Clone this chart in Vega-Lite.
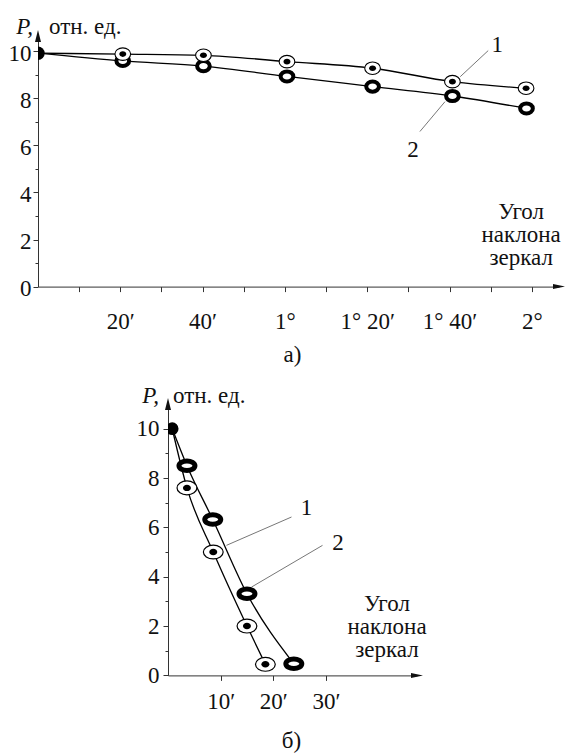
{
  "$schema": "https://vega.github.io/schema/vega-lite/v6.json",
  "padding": {"left": 0, "top": 16, "right": 0, "bottom": 0},
  "spacing": 17,
  "config": {
    "font": "Liberation Serif",
    "view": {"stroke": null},
    "axis": {"grid": false, "domainColor": "#333", "tickColor": "#333", "labelColor": "#111", "labelFont": "Liberation Serif", "labelFontSize": 23, "tickSize": 5, "titleFont": "Liberation Serif", "titleFontSize": 23, "titleFontWeight": "normal", "titleColor": "#111", "labelFlush": false, "labelOverlap": false},
    "text": {"font": "Liberation Serif", "fontSize": 23, "color": "#111"}
  },
  "datasets": {
    "a": [
      {"curve": "1", "x": 0, "y": 9.92}, {"curve": "1", "x": 20.6, "y": 9.88}, {"curve": "1", "x": 40.2, "y": 9.83}, {"curve": "1", "x": 60.5, "y": 9.56}, {"curve": "1", "x": 81.3, "y": 9.28}, {"curve": "1", "x": 100.7, "y": 8.71}, {"curve": "1", "x": 118.6, "y": 8.43},
      {"curve": "2", "x": 0, "y": 9.92}, {"curve": "2", "x": 20.6, "y": 9.59}, {"curve": "2", "x": 40.2, "y": 9.37}, {"curve": "2", "x": 60.5, "y": 8.93}, {"curve": "2", "x": 81.3, "y": 8.5}, {"curve": "2", "x": 100.7, "y": 8.1}, {"curve": "2", "x": 118.7, "y": 7.57}
    ],
    "b": [
      {"curve": "1", "x": 0.8, "y": 10}, {"curve": "1", "x": 3.6, "y": 7.6}, {"curve": "1", "x": 8.6, "y": 5.0}, {"curve": "1", "x": 15.0, "y": 2.0}, {"curve": "1", "x": 18.5, "y": 0.45},
      {"curve": "2", "x": 0.8, "y": 10}, {"curve": "2", "x": 3.6, "y": 8.5}, {"curve": "2", "x": 8.5, "y": 6.32}, {"curve": "2", "x": 15.0, "y": 3.31}, {"curve": "2", "x": 23.9, "y": 0.47}
    ],
    "a_leaders": [
      {"x": 109.4, "y": 10.03, "x2": 102.6, "y2": 8.92},
      {"x": 98.9, "y": 7.86, "x2": 92.8, "y2": 6.59}
    ],
    "b_leaders": [
      {"x": 23.46, "y": 6.42, "x2": 11.1, "y2": 5.27},
      {"x": 29.35, "y": 5.27, "x2": 15.86, "y2": 3.58}
    ],
    "a_labels": [
      {"text": "1", "x": 111.6, "y": 9.99},
      {"text": "2", "x": 91.1, "y": 5.52},
      {"text": "Угол\nнаклона\nзеркал", "x": 117.4, "y": 2.88}
    ],
    "b_labels": [
      {"text": "1", "x": 26.3, "y": 6.49},
      {"text": "2", "x": 32.3, "y": 5.1},
      {"text": "Угол\nнаклона\nзеркал", "x": 41.6, "y": 2.59}
    ],
    "a_title": [{"p": "P,", "unit": "отн. ед.", "x": 0, "y": 10.72}],
    "b_title": [{"p": "P,", "unit": "отн. ед.", "x": 0, "y": 11.05}],
    "a_arrows": [{"dir": "up", "x": 0, "y": 10.65}, {"dir": "right", "x": 126.6, "y": 0}],
    "b_arrows": [{"dir": "up", "x": 0, "y": 11}, {"dir": "right", "x": 47.3, "y": 0}]
  },
  "vconcat": [
    {
      "width": 521,
      "height": 250.6,
      "encoding": {
        "x": {"field": "x", "type": "quantitative", "scale": {"domain": [0, 126.6], "nice": false, "zero": false},
          "axis": {"values": [10, 20, 30, 40, 50, 60, 70, 80, 90, 100, 110, 120], "labelPadding": 19,
            "labelExpr": "datum.value % 20 != 0 ? '' : datum.value < 60 ? datum.value + '′' : datum.value % 60 == 0 ? (datum.value / 60) + '°' : floor(datum.value / 60) + '° ' + (datum.value % 60) + '′'",
            "title": "а)", "titleX": 254, "titleY": 75, "titleBaseline": "alphabetic", "titleAlign": "center", "titleAnchor": "start"}},
        "y": {"field": "y", "type": "quantitative", "scale": {"domain": [0, 10.65], "nice": false, "zero": false},
          "axis": {"values": [0, 1, 2, 3, 4, 5, 6, 7, 8, 9, 10], "labelExpr": "datum.value % 2 == 0 ? datum.label : ''", "title": null, "minExtent": 38, "labelPadding": 2, "labelOffset": 2,
            "tickSize": {"condition": {"test": "datum.value % 2 == 1", "value": 3}, "value": 5}}}
      },
      "layer": [
        {"data": {"name": "a"}, "mark": {"type": "line", "interpolate": "monotone", "color": "#000", "strokeWidth": 1.3}, "encoding": {"detail": {"field": "curve"}}},
        {"data": {"name": "a_leaders"}, "mark": {"type": "rule", "color": "#777", "strokeWidth": 1}, "encoding": {"x2": {"field": "x2"}, "y2": {"field": "y2"}}},
        {"data": {"name": "a"}, "transform": [{"filter": "datum.curve == '2' && datum.x > 1"}],
          "mark": {"type": "point", "shape": "M1,0C1,0.4418,0.5523,0.8,0,0.8C-0.5523,0.8,-1,0.4418,-1,0C-1,-0.4418,-0.5523,-0.8,0,-0.8C0.5523,-0.8,1,-0.4418,1,0Z", "size": 161, "filled": true, "fill": "#fff", "stroke": "#000", "strokeWidth": 4, "opacity": 1}},
        {"data": {"name": "a"}, "transform": [{"filter": "datum.curve == '1' && datum.x > 1"}],
          "mark": {"type": "point", "shape": "M1,0C1,0.4418,0.5523,0.8,0,0.8C-0.5523,0.8,-1,0.4418,-1,0C-1,-0.4418,-0.5523,-0.8,0,-0.8C0.5523,-0.8,1,-0.4418,1,0Z", "size": 246, "filled": true, "fill": "#fff", "stroke": "#000", "strokeWidth": 1.1, "opacity": 1}},
        {"data": {"name": "a"}, "transform": [{"filter": "datum.curve == '1' && datum.x > 1"}],
          "mark": {"type": "point", "shape": "M1,0C1,0.4418,0.5523,0.8,0,0.8C-0.5523,0.8,-1,0.4418,-1,0C-1,-0.4418,-0.5523,-0.8,0,-0.8C0.5523,-0.8,1,-0.4418,1,0Z", "size": 49, "filled": true, "fill": "#000", "strokeWidth": 0, "opacity": 1}},
        {"data": {"name": "a"}, "transform": [{"filter": "datum.curve == '1' && datum.x < 1"}],
          "mark": {"type": "point", "shape": "circle", "size": 180, "filled": true, "fill": "#000", "strokeWidth": 0, "opacity": 1, "clip": true}},
        {"data": {"name": "a_labels"}, "mark": {"type": "text", "align": "center", "baseline": "alphabetic", "lineBreak": "\n", "lineHeight": 23}, "encoding": {"text": {"field": "text"}}},
        {"data": {"name": "a_title"}, "mark": {"type": "text", "align": "right", "baseline": "alphabetic", "dx": -5, "fontStyle": "italic"}, "encoding": {"text": {"field": "p"}}},
        {"data": {"name": "a_title"}, "mark": {"type": "text", "align": "left", "baseline": "alphabetic", "dx": 11}, "encoding": {"text": {"field": "unit"}}},
        {"data": {"name": "a_arrows"}, "transform": [{"filter": "datum.dir == 'up'"}], "mark": {"type": "point", "shape": "M0,-1L0.5,1L-0.5,1Z", "size": 144, "filled": true, "fill": "#111", "strokeWidth": 0, "opacity": 1}},
        {"data": {"name": "a_arrows"}, "transform": [{"filter": "datum.dir == 'right'"}], "mark": {"type": "point", "shape": "M1,0L-1,-0.42L-1,0.42Z", "size": 144, "filled": true, "fill": "#111", "strokeWidth": 0, "opacity": 1}}
      ]
    },
    {
      "concat": [
        {"width": 90, "height": 10, "data": {"values": []}, "mark": "point"},
        {
          "width": 249,
          "height": 271.4,
          "encoding": {
            "x": {"field": "x", "type": "quantitative", "scale": {"domain": [0, 47.3], "nice": false, "zero": false},
              "axis": {"values": [10, 20, 30], "labelPadding": 10, "labelExpr": "datum.value + '′'",
                "title": "б)", "titleX": 123, "titleY": 72, "titleBaseline": "alphabetic", "titleAlign": "center", "titleAnchor": "start"}},
            "y": {"field": "y", "type": "quantitative", "scale": {"domain": [0, 11], "nice": false, "zero": false},
              "axis": {"values": [0, 1, 2, 3, 4, 5, 6, 7, 8, 9, 10], "labelExpr": "datum.value % 2 == 0 ? datum.label : ''", "title": null, "minExtent": 40, "labelPadding": 4,
                "tickSize": {"condition": {"test": "datum.value % 2 == 1", "value": 3}, "value": 5}}}
          },
          "layer": [
            {"data": {"name": "b"}, "mark": {"type": "line", "interpolate": "monotone", "color": "#000", "strokeWidth": 1.3}, "encoding": {"detail": {"field": "curve"}}},
            {"data": {"name": "b_leaders"}, "mark": {"type": "rule", "color": "#777", "strokeWidth": 1}, "encoding": {"x2": {"field": "x2"}, "y2": {"field": "y2"}}},
            {"data": {"name": "b"}, "transform": [{"filter": "datum.curve == '2' && datum.x > 1"}],
              "mark": {"type": "point", "shape": "M1,0C1,0.3314,0.5523,0.6,0,0.6C-0.5523,0.6,-1,0.3314,-1,0C-1,-0.3314,-0.5523,-0.6,0,-0.6C0.5523,-0.6,1,-0.3314,1,0Z", "size": 256, "filled": true, "fill": "#fff", "stroke": "#000", "strokeWidth": 5, "opacity": 1}},
            {"data": {"name": "b"}, "transform": [{"filter": "datum.curve == '1' && datum.x > 1"}],
              "mark": {"type": "point", "shape": "M1,0C1,0.3866,0.5523,0.7,0,0.7C-0.5523,0.7,-1,0.3866,-1,0C-1,-0.3866,-0.5523,-0.7,0,-0.7C0.5523,-0.7,1,-0.3866,1,0Z", "size": 392, "filled": true, "fill": "#fff", "stroke": "#000", "strokeWidth": 1.2, "opacity": 1}},
            {"data": {"name": "b"}, "transform": [{"filter": "datum.curve == '1' && datum.x > 1"}],
              "mark": {"type": "point", "shape": "M1,0C1,0.4418,0.5523,0.8,0,0.8C-0.5523,0.8,-1,0.4418,-1,0C-1,-0.4418,-0.5523,-0.8,0,-0.8C0.5523,-0.8,1,-0.4418,1,0Z", "size": 64, "filled": true, "fill": "#000", "strokeWidth": 0, "opacity": 1}},
            {"data": {"name": "b"}, "transform": [{"filter": "datum.curve == '1' && datum.x < 1"}],
              "mark": {"type": "point", "shape": "circle", "size": 160, "filled": true, "fill": "#000", "strokeWidth": 0, "opacity": 1, "clip": true}},
            {"data": {"name": "b_labels"}, "mark": {"type": "text", "align": "center", "baseline": "alphabetic", "lineBreak": "\n", "lineHeight": 23}, "encoding": {"text": {"field": "text"}}},
            {"data": {"name": "b_title"}, "mark": {"type": "text", "align": "right", "baseline": "alphabetic", "dx": -9, "fontStyle": "italic"}, "encoding": {"text": {"field": "p"}}},
            {"data": {"name": "b_title"}, "mark": {"type": "text", "align": "left", "baseline": "alphabetic", "dx": 5}, "encoding": {"text": {"field": "unit"}}},
            {"data": {"name": "b_arrows"}, "transform": [{"filter": "datum.dir == 'up'"}], "mark": {"type": "point", "shape": "M0,-1L0.5,1L-0.5,1Z", "size": 144, "filled": true, "fill": "#111", "strokeWidth": 0, "opacity": 1}},
            {"data": {"name": "b_arrows"}, "transform": [{"filter": "datum.dir == 'right'"}], "mark": {"type": "point", "shape": "M1,0L-1,-0.42L-1,0.42Z", "size": 144, "filled": true, "fill": "#111", "strokeWidth": 0, "opacity": 1}}
          ]
        }
      ],
      "spacing": 0,
      "align": "none"
    }
  ]
}
